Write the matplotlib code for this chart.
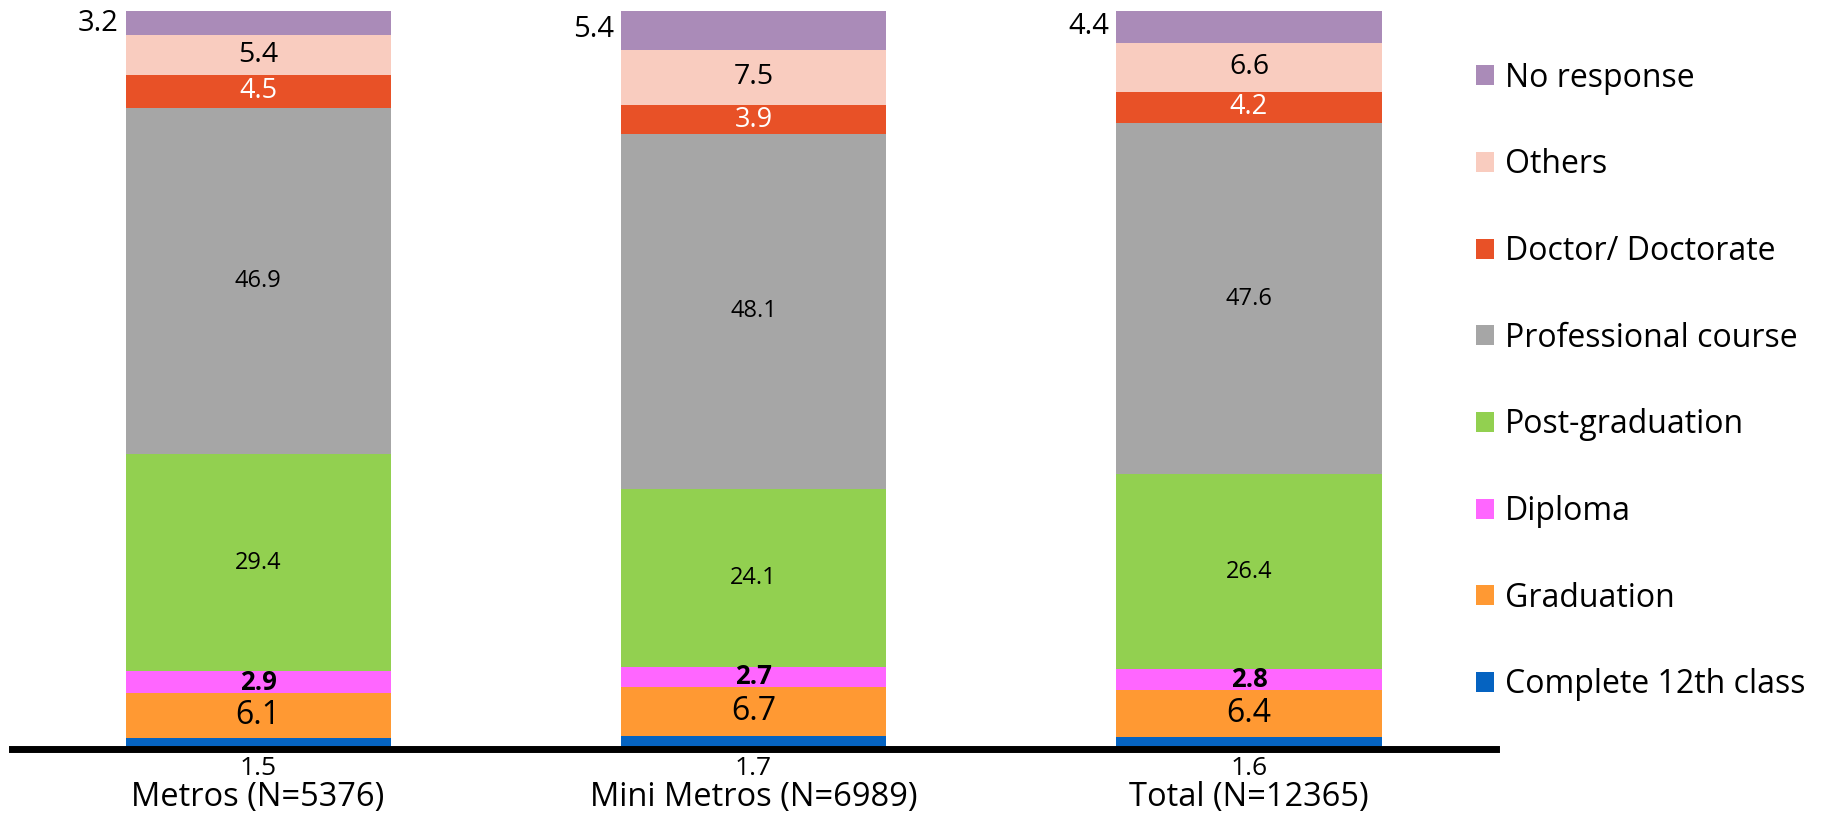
import matplotlib
matplotlib.use("Agg")
import matplotlib.pyplot as plt
from matplotlib.patches import Patch
import numpy as np

plt.rcParams['font.family'] = ['Open Sans', 'DejaVu Sans']

categories = ["Metros (N=5376)", "Mini Metros (N=6989)", "Total (N=12365)"]
series_names = ["Complete 12th class", "Graduation", "Diploma", "Post-graduation",
                "Professional course", "Doctor/ Doctorate", "Others", "No response"]
complete_12th = [1.5, 1.7, 1.6]
graduation = [6.1, 6.7, 6.4]
diploma = [2.9, 2.7, 2.8]
post_graduation = [29.4, 24.1, 26.4]
professional = [46.9, 48.1, 47.6]
doctorate = [4.5, 3.9, 4.2]
others = [5.4, 7.5, 6.6]
no_response = [3.2, 5.4, 4.4]

series = [complete_12th, graduation, diploma, post_graduation,
          professional, doctorate, others, no_response]
colors = ["#0563C1", "#FF9933", "#FF66FF", "#92D050",
          "#A6A6A6", "#E85127", "#F9CCBF", "#AA8BB8"]

fig = plt.figure(figsize=(18.25, 8.15), dpi=100)
ax = fig.add_axes([0.0066, 0.081, 0.8131, 0.906])

x = np.arange(len(categories))
width = 0.535
bottom = np.zeros(len(categories))
for vals, col, name in zip(series, colors, series_names):
    v = np.array(vals)
    ax.bar(x, v, width, bottom=bottom, color=col, linewidth=0, label=name)
    for i in range(len(categories)):
        yc = bottom[i] + v[i] / 2
        txt = f"{v[i]:.1f}"
        if name == "Complete 12th class":
            ax.annotate(txt, (x[i], 0), xytext=(0, -5), textcoords="offset points",
                        ha="center", va="top", fontsize=19)
        elif name == "No response":
            ax.annotate(txt, (x[i] - width / 2, yc), xytext=(-5, 0),
                        textcoords="offset points", ha="right", va="center", fontsize=21)
        elif name == "Doctor/ Doctorate":
            ax.text(x[i], yc, txt, ha="center", va="center", fontsize=19.5, color="white")
        elif name == "Others":
            ax.text(x[i], yc, txt, ha="center", va="center", fontsize=20.5)
        elif name == "Diploma":
            ax.text(x[i], yc, txt, ha="center", va="center", fontsize=18.5, fontweight="bold")
        elif name == "Graduation":
            ax.text(x[i], yc, txt, ha="center", va="center", fontsize=23)
        else:
            ax.text(x[i], yc, txt, ha="center", va="center", fontsize=17)
    bottom += v

ax.set_xlim(-0.4965, 2.4985)
ax.set_ylim(0, 100)
for s in ["top", "right", "left"]:
    ax.spines[s].set_visible(False)
ax.spines["bottom"].set_linewidth(5)
ax.spines["bottom"].set_color("black")
ax.set_yticks([])
ax.set_xticks(x)
ax.set_xticklabels(categories, fontsize=23.5)
ax.tick_params(axis="x", length=0, pad=23)

handles = [Patch(facecolor=c, label=n) for c, n in zip(colors, series_names)][::-1]
fig.legend(handles=handles, loc="upper left", bbox_to_anchor=(0.8015, 0.94),
           frameon=False, fontsize=23, handlelength=0.58, handleheight=0.58,
           handletextpad=0.35, labelspacing=1.68, borderaxespad=0)

fig.savefig("out.png", dpi=100)
